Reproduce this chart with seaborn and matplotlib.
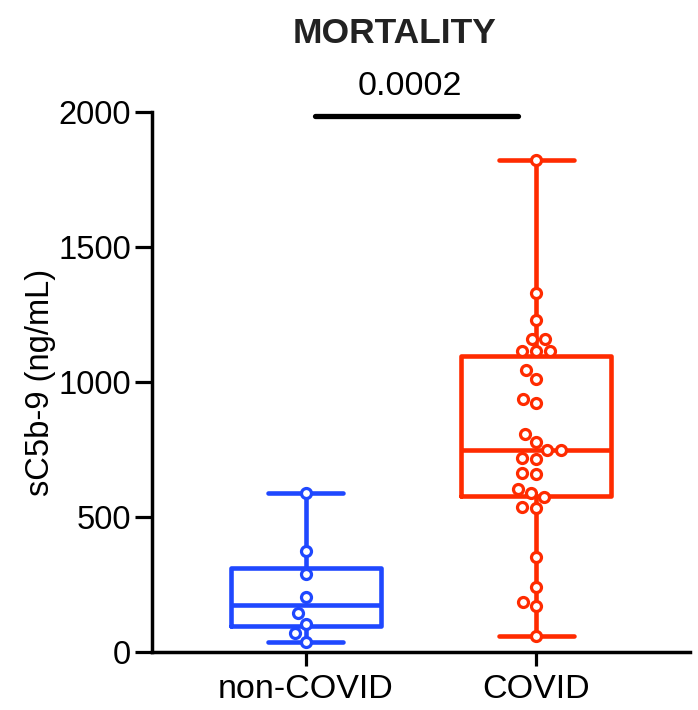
import numpy as np
import pandas as pd
import matplotlib
matplotlib.use("Agg")
import matplotlib.pyplot as plt
import seaborn as sns

# sC5b-9 concentrations (ng/mL) per patient group
groups = ["non-COVID", "COVID"]
non_covid = [38, 69, 103, 143, 203, 288, 375, 590]
covid = [60, 169, 184, 242, 352, 535, 536, 575, 588, 603, 660, 664, 716, 720,
         748, 748, 779, 806, 921, 936, 1012, 1045, 1115, 1115, 1115, 1161,
         1161, 1229, 1331, 1822]
p_value = "0.0002"
title = "MORTALITY"
y_label = "sC5b-9 (ng/mL)"
y_ticks = [0, 500, 1000, 1500, 2000]

colors = {"non-COVID": "#1F48FF", "COVID": "#FF2B00"}

df = pd.DataFrame({
    "group": ["non-COVID"] * len(non_covid) + ["COVID"] * len(covid),
    "value": non_covid + covid,
})

sns.set_style("ticks", {"axes.edgecolor": "black", "text.color": "black",
                        "axes.labelcolor": "black", "xtick.color": "black",
                        "ytick.color": "black"})
plt.rcParams["font.family"] = ["Liberation Sans", "DejaVu Sans"]

fig = plt.figure(figsize=(6.98, 7.10), dpi=100)
ax = fig.add_axes([152 / 698, 1 - 652 / 710, 538 / 698, 540 / 710])

lw = 3.3
sns.boxplot(data=df, x="group", y="value", hue="group", order=groups,
            hue_order=groups, palette=colors, fill=False, width=0.65,
            whis=(0, 100), showfliers=False, linewidth=lw, legend=False,
            ax=ax)

for g in groups:
    sns.swarmplot(data=df[df["group"] == g], x="group", y="value",
                  order=groups, color="white", edgecolor=colors[g],
                  linewidth=2.3, size=7.2, ax=ax, zorder=5)
for coll in ax.collections:
    coll.set_clip_on(False)

ax.set_xlim(-2 / 3, 5 / 3)
ax.set_ylim(0, 2000)
ax.set_yticks(y_ticks)
ax.set_xlabel("")
ax.set_ylabel(y_label, fontsize=23.5, labelpad=2)

sns.despine(ax=ax)
for side in ("left", "bottom"):
    ax.spines[side].set_linewidth(2.5)
ax.tick_params(axis="y", length=12, width=2.3, labelsize=23.5, pad=3)
ax.tick_params(axis="x", length=10, width=2.3, labelsize=24.5, pad=6)

# significance bar and p-value
ax.plot([0.04, 0.92], [1985, 1985], color="black", lw=3.8,
        solid_capstyle="round", clip_on=False)
ax.text(0.45, 2063, p_value, ha="center", va="baseline", fontsize=24.5,
        clip_on=False)
ax.text(0.385, 2256, title, ha="center", va="baseline", fontsize=25.5,
        fontweight="bold", color="#222222", clip_on=False)

fig.savefig("out.png", dpi=100)
